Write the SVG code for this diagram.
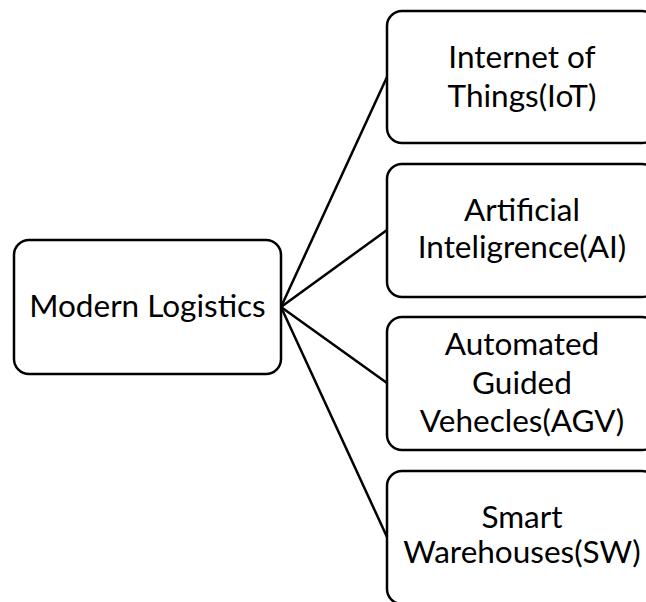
<svg xmlns="http://www.w3.org/2000/svg" width="646" height="602" viewBox="0 0 646 602">
<style>
.box{fill:#fff;stroke:#000;stroke-width:2.5}
.t{font-family:Lato,"Open Sans","Liberation Sans",sans-serif;font-size:31.5px;fill:#000;text-anchor:middle}
.c{stroke:#000;stroke-width:2.5;fill:none}
</style>
<rect width="646" height="602" fill="#fff"/>
<g id="connectors">
<line class="c" x1="281" y1="307" x2="387" y2="77"/>
<line class="c" x1="281" y1="307" x2="387" y2="230"/>
<line class="c" x1="281" y1="307" x2="387" y2="383"/>
<line class="c" x1="281" y1="307" x2="387" y2="537"/>
</g>
<g id="modern-logistics">
<rect class="box" x="14" y="240" width="267" height="134" rx="15"/>
<text class="t" x="147.5" y="317">Modern Logistics</text>
</g>
<g id="iot">
<rect class="box" x="387" y="11" width="270" height="132" rx="15"/>
<text class="t" x="522" y="68">Internet of</text>
<text class="t" x="522" y="107">Things(IoT)</text>
</g>
<g id="ai">
<rect class="box" x="387" y="164" width="270" height="133" rx="15"/>
<text class="t" x="522" y="221">Artificial</text>
<text class="t" x="522" y="258">Inteligrence(AI)</text>
</g>
<g id="agv">
<rect class="box" x="387" y="317" width="270" height="133" rx="15"/>
<text class="t" x="522" y="355">Automated</text>
<text class="t" x="522" y="394">Guided</text>
<text class="t" x="522" y="432">Vehecles(AGV)</text>
</g>
<g id="sw">
<rect class="box" x="387" y="471" width="270" height="133" rx="15"/>
<text class="t" x="522" y="528">Smart</text>
<text class="t" x="522" y="563">Warehouses(SW)</text>
</g>
</svg>
